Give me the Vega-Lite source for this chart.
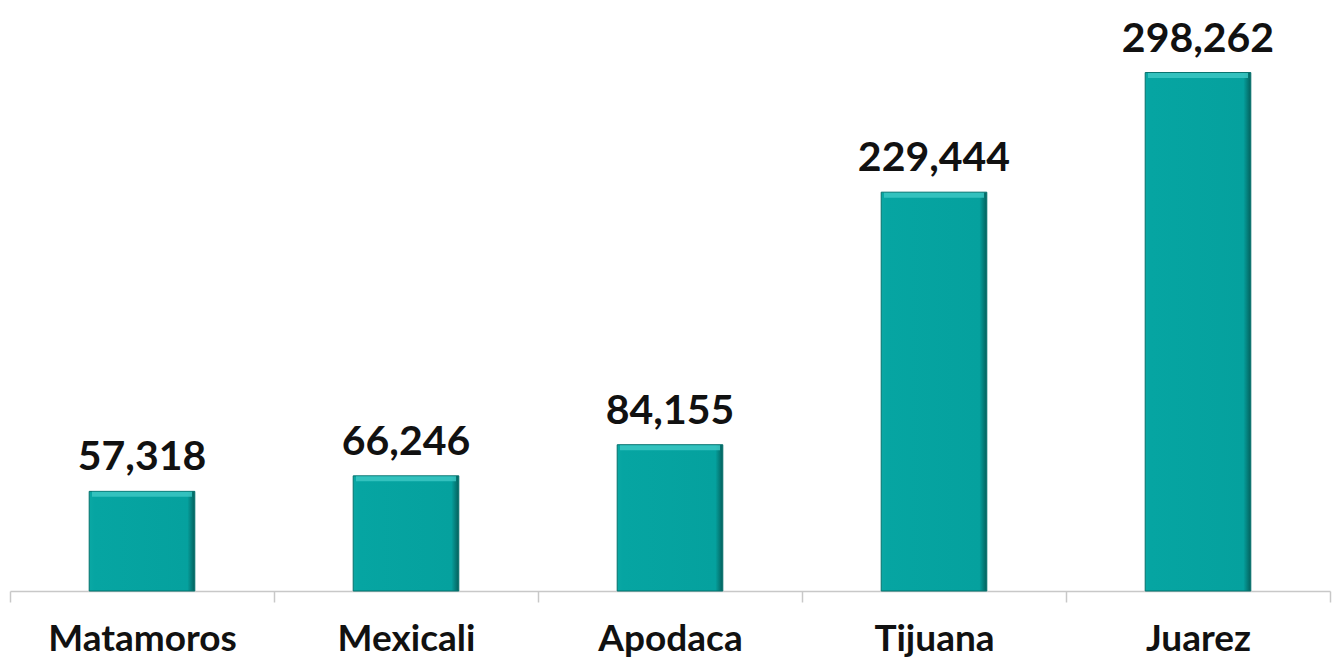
{
  "$schema": "https://vega.github.io/schema/vega-lite/v6.json",
  "autosize": "none",
  "width": 1320,
  "height": 591,
  "padding": {"left": 10, "top": 0, "right": 7, "bottom": 70},
  "background": "white",
  "config": {"view": {"stroke": null}},
  "data": {"values": [
    {"city": "Matamoros", "value": 57318},
    {"city": "Mexicali", "value": 66246},
    {"city": "Apodaca", "value": 84155},
    {"city": "Tijuana", "value": 229444},
    {"city": "Juarez", "value": 298262}
  ]},
  "encoding": {
    "x": {
      "field": "city", "type": "nominal", "sort": null,
      "scale": {"paddingInner": 0, "paddingOuter": 0},
      "axis": {
        "title": null, "labelAngle": 0, "tickBand": "extent", "labelLimit": 400,
        "domainColor": "#c8c8c8", "domainWidth": 1.5,
        "tickColor": "#c8c8c8", "tickWidth": 1.5, "tickSize": 11,
        "labelFont": "Lato", "labelFontWeight": "bold", "labelFontSize": 37,
        "labelColor": "#111111", "labelBaseline": "alphabetic", "labelPadding": 48
      }
    },
    "y": {
      "field": "value", "type": "quantitative",
      "scale": {"domain": [0, 340000], "nice": false},
      "axis": null
    }
  },
  "layer": [
    {
      "mark": {
        "type": "bar",
        "width": {"band": 0.4},
        "fill": {
          "gradient": "linear", "x1": 0, "y1": 0, "x2": 1, "y2": 0,
          "stops": [
            {"offset": 0, "color": "#0aa8a4"},
            {"offset": 0.05, "color": "#06a5a2"},
            {"offset": 0.93, "color": "#05a19e"},
            {"offset": 1, "color": "#04605c"}
          ]
        },
        "stroke": "#05706c", "strokeWidth": 1
      }
    },
    {
      "mark": {"type": "tick", "color": "#3fc9c5", "thickness": 5, "size": 100, "yOffset": 3, "opacity": 0.8}
    },
    {
      "mark": {
        "type": "text", "font": "Lato", "fontWeight": "bold", "fontSize": 41,
        "color": "#111111", "baseline": "alphabetic", "dy": -21
      },
      "encoding": {"text": {"field": "value", "type": "quantitative", "format": ",d"}}
    }
  ]
}
